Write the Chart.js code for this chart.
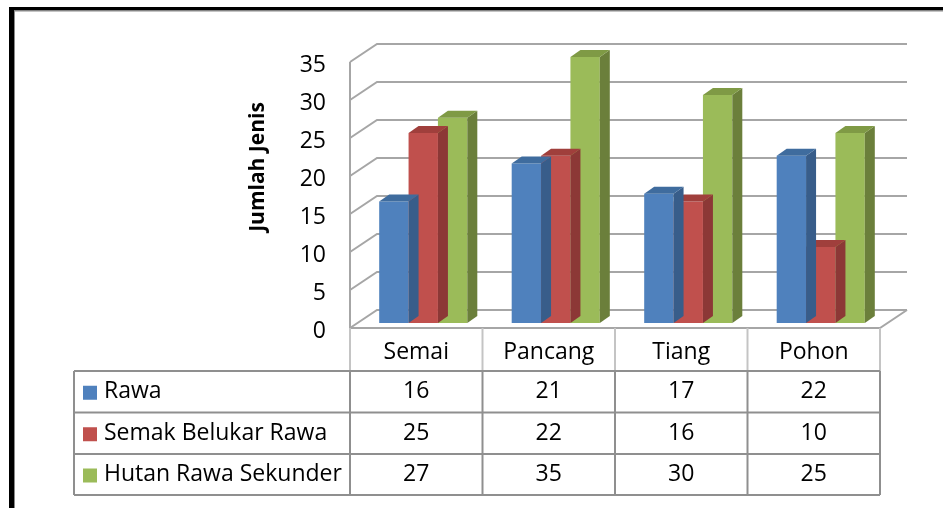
<!DOCTYPE html>
<html>
<head>
<meta charset="utf-8">
<script src="https://cdn.jsdelivr.net/npm/chart.js@4"></script>
<style>
  html, body { margin: 0; padding: 0; background: #fff; }
  canvas { display: block; }
</style>
</head>
<body>
<canvas id="chart" width="943" height="508"></canvas>
<script>
// data
const categories = ['Semai', 'Pancang', 'Tiang', 'Pohon'];
const seriesNames = ['Rawa', 'Semak Belukar Rawa', 'Hutan Rawa Sekunder'];
const rawa = [16, 21, 17, 22];
const semak = [25, 22, 16, 10];
const hutan = [27, 35, 30, 25];
const yTicks = [0, 5, 10, 15, 20, 25, 30, 35];
const yTitle = 'Jumlah Jenis';

const FONT = '"Open Sans", "Liberation Sans", sans-serif';
const front = ['#4f81bd', '#c0504d', '#9bbb59'];
const side = ['#385d8a', '#8c3836', '#6b7f3b'];
const top_ = ['#3f6c9e', '#a03f3c', '#7f9a45'];

// offsets of the walls relative to the plane the bars stand in
const FX = -7, FY = 5, BX = 20, BY = -13;
const BDX = 10, BDY = -7;
const GRID = '#a6a6a6';

const threeD = {
  id: 'threeD',
  beforeDraw(chart) {
    const c = chart.ctx;
    c.save();
    c.fillStyle = '#fff';
    c.fillRect(0, 0, chart.width, chart.height);
    // frame
    c.fillStyle = '#000';
    c.fillRect(9, 7, chart.width, 3.5);
    c.fillRect(9, 7, 5, chart.height);
    c.fillStyle = '#8a8a8a';
    c.fillRect(14, 10.5, chart.width, 1);
    c.fillRect(14, 10.5, 1, chart.height);
    c.restore();
  },
  beforeDatasetsDraw(chart) {
    const c = chart.ctx, a = chart.chartArea, y = chart.scales.y;
    c.save();
    c.strokeStyle = GRID;
    c.lineWidth = 2;
    yTicks.forEach(v => {
      const p = y.getPixelForValue(v);
      c.beginPath();
      c.moveTo(a.left + FX, p + FY);
      c.lineTo(a.left + BX, p + BY);
      c.lineTo(a.right + BX, p + BY);
      c.stroke();
    });
    // left front edge
    const p0 = y.getPixelForValue(0), pTop = y.getPixelForValue(yTicks[yTicks.length - 1]);
    c.beginPath();
    c.moveTo(a.left + FX, pTop + FY);
    c.lineTo(a.left + FX, p0 + FY);
    c.stroke();
    // floor
    c.beginPath();
    c.moveTo(a.left + FX, p0 + FY);
    c.lineTo(a.right + FX, p0 + FY);
    c.lineTo(a.right + BX, p0 + BY);
    c.stroke();

    // tick labels
    c.fillStyle = '#000';
    c.font = '23px ' + FONT;
    c.textAlign = 'right';
    c.textBaseline = 'middle';
    yTicks.forEach(v => {
      c.fillText(String(v), a.left + FX - 24, y.getPixelForValue(v) + FY + 3);
    });
    // axis title
    c.translate(258, (pTop + p0) / 2 + FY - 28);
    c.rotate(-Math.PI / 2);
    c.textAlign = 'center';
    c.font = 'bold 21px ' + FONT;
    c.fillText(yTitle, 0, 0);
    c.restore();
  },
  afterDatasetDraw(chart, args) {
    const c = chart.ctx, i = args.index;
    c.save();
    args.meta.data.forEach(el => {
      const b = el.getProps(['x', 'y', 'base', 'width'], true);
      const l = b.x - b.width / 2, r = b.x + b.width / 2;
      c.fillStyle = side[i];
      c.beginPath();
      c.moveTo(r, b.y);
      c.lineTo(r + BDX, b.y + BDY);
      c.lineTo(r + BDX, b.base + BDY);
      c.lineTo(r, b.base);
      c.closePath();
      c.fill();
      c.fillStyle = top_[i];
      c.beginPath();
      c.moveTo(l, b.y);
      c.lineTo(l + BDX, b.y + BDY);
      c.lineTo(r + BDX, b.y + BDY);
      c.lineTo(r, b.y);
      c.closePath();
      c.fill();
    });
    c.restore();
  },
  afterDraw(chart) {
    const c = chart.ctx, a = chart.chartArea, y = chart.scales.y;
    const x0 = a.left + FX, x1 = a.right + FX;
    const cw = (x1 - x0) / categories.length;
    const tableLeft = 74;
    const hTop = y.getPixelForValue(0) + FY;
    const rows = [hTop, 371, 412.5, 454, 495];
    const series = [rawa, semak, hutan];
    c.save();
    // header cells
    c.strokeStyle = '#c4c4c4';
    c.lineWidth = 2;
    for (let k = 0; k <= categories.length; k++) {
      c.beginPath();
      c.moveTo(x0 + k * cw, rows[0]);
      c.lineTo(x0 + k * cw, rows[1]);
      c.stroke();
    }
    // body grid
    c.strokeStyle = '#8f8f8f';
    for (let r = 1; r < rows.length; r++) {
      c.beginPath();
      c.moveTo(tableLeft, rows[r]);
      c.lineTo(x1, rows[r]);
      c.stroke();
    }
    [tableLeft].concat(categories.map((_, k) => x0 + k * cw), [x1]).forEach(xx => {
      c.beginPath();
      c.moveTo(xx, rows[1]);
      c.lineTo(xx, rows[rows.length - 1]);
      c.stroke();
    });
    // texts
    c.fillStyle = '#000';
    c.font = '23px ' + FONT;
    c.textAlign = 'center';
    c.textBaseline = 'middle';
    categories.forEach((cat, k) => c.fillText(cat, x0 + (k + 0.5) * cw, (rows[0] + rows[1]) / 2 + 3));
    series.forEach((vals, s) => {
      const cy = (rows[s + 1] + rows[s + 2]) / 2;
      vals.forEach((v, k) => c.fillText(String(v), x0 + (k + 0.5) * cw, cy));
      c.fillStyle = front[s];
      c.fillRect(83, cy - 6, 14, 14);
      c.fillStyle = '#000';
      c.textAlign = 'left';
      c.fillText(seriesNames[s], 104, cy);
      c.textAlign = 'center';
    });
    c.restore();
  }
};

new Chart(document.getElementById('chart'), {
  type: 'bar',
  data: {
    labels: categories,
    datasets: [
      { label: seriesNames[0], data: rawa, backgroundColor: front[0] },
      { label: seriesNames[1], data: semak, backgroundColor: front[1] },
      { label: seriesNames[2], data: hutan, backgroundColor: front[2] }
    ]
  },
  options: {
    responsive: false,
    animation: false,
    devicePixelRatio: 1,
    layout: { padding: { left: 357, right: 56, top: 57, bottom: 185 } },
    datasets: { bar: { categoryPercentage: 0.665, barPercentage: 1, borderWidth: 0 } },
    plugins: { legend: { display: false }, tooltip: { enabled: false } },
    scales: {
      x: { display: false },
      y: { display: false, min: 0, max: 35 }
    }
  },
  plugins: [threeD]
});
</script>
</body>
</html>
